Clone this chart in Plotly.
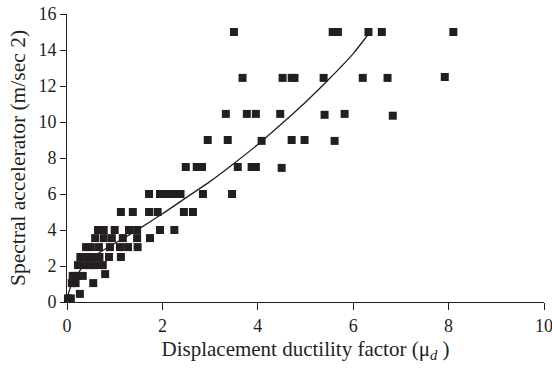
import plotly.graph_objects as go

# Scatter data (displacement ductility factor, spectral acceleration)
x_pts = [
    3.50, 5.57, 5.68, 6.32, 6.60, 8.10,
    3.68, 4.52, 4.71, 4.77, 5.38, 6.20, 6.72, 7.92,
    3.33, 3.77, 3.96, 4.47, 5.40, 5.82, 6.83,
    2.95, 3.37, 4.08, 4.71, 4.98, 5.61,
    2.49, 2.72, 2.83, 3.58, 3.87, 3.96, 4.50,
    1.72, 1.95, 2.10, 2.25, 2.38, 2.85, 3.46,
    1.13, 1.38, 1.72, 1.90, 2.45, 2.64,
    0.65, 0.77, 1.00, 1.30, 1.47, 1.95, 2.25,
    0.59, 0.77, 0.94, 1.17, 1.47, 1.74,
    0.40, 0.50, 0.67, 0.90, 1.11, 1.28, 1.48,
    0.28, 0.40, 0.54, 0.68, 0.88, 1.13,
    0.23, 0.36, 0.48, 0.59, 0.75,
    0.80,
    0.12, 0.22, 0.33,
    0.10, 0.18, 0.55,
    0.27,
    0.02, 0.08,
]
y_pts = [
    15.0, 15.0, 15.0, 15.0, 15.0, 15.0,
    12.45, 12.45, 12.45, 12.45, 12.45, 12.45, 12.45, 12.5,
    10.45, 10.45, 10.45, 10.45, 10.4, 10.45, 10.35,
    9.0, 9.0, 8.95, 9.0, 9.0, 8.95,
    7.5, 7.5, 7.5, 7.5, 7.5, 7.5, 7.45,
    6.0, 6.0, 6.0, 6.0, 6.0, 6.0, 6.0,
    5.0, 5.0, 5.0, 5.0, 5.0, 5.0,
    4.0, 4.0, 4.0, 4.0, 4.0, 4.0, 4.0,
    3.55, 3.55, 3.55, 3.55, 3.55, 3.55,
    3.05, 3.05, 3.05, 3.05, 3.05, 3.05, 3.05,
    2.5, 2.5, 2.5, 2.5, 2.5, 2.5,
    2.05, 2.05, 2.05, 2.05, 2.05,
    1.55,
    1.45, 1.45, 1.45,
    1.05, 1.05, 1.05,
    0.45,
    0.2, 0.2,
]

# Trend curve
x_fit = [0.0, 0.1, 0.3, 0.6, 1.0, 1.5, 2.0, 2.5, 3.0, 3.5, 4.0, 4.5, 5.0, 5.5, 6.0, 6.35]
y_fit = [0.2, 1.0, 1.85, 2.6, 3.25, 4.05, 4.9, 5.8, 6.7, 7.7, 8.75, 9.9, 11.1, 12.4, 13.8, 15.0]

x_ticks = [0, 2, 4, 6, 8, 10]
y_ticks = [0, 2, 4, 6, 8, 10, 12, 14, 16]

FONT = "Liberation Serif, Times New Roman, serif"
INK = "#231f20"

fig = go.Figure()
fig.add_trace(go.Scatter(
    x=x_fit, y=y_fit, mode="lines", line=dict(color=INK, width=1.3, shape="spline", smoothing=0.8),
    hoverinfo="skip", showlegend=False,
))
fig.add_trace(go.Scatter(
    x=x_pts, y=y_pts, mode="markers",
    marker=dict(symbol="square", size=8, color=INK, line=dict(width=0)),
    cliponaxis=False, showlegend=False,
))

fig.update_layout(
    width=552, height=368,
    margin=dict(l=67, r=8, t=14, b=66, autoexpand=False),
    paper_bgcolor="white", plot_bgcolor="white",
    font=dict(family=FONT, size=18, color=INK),
    showlegend=False,
)
fig.update_xaxes(
    range=[0, 10], tickvals=x_ticks, ticktext=[str(v) for v in x_ticks],
    showgrid=False, zeroline=False, showline=True, linecolor=INK, linewidth=1,
    ticks="outside", ticklen=7, tickcolor=INK, tickwidth=1,
    ticklabeloverflow="allow",
    tickfont=dict(family=FONT, size=18, color=INK),
    title=dict(text="Displacement ductility factor (μ<sub><i>d</i></sub> )",
               font=dict(family=FONT, size=21, color=INK), standoff=6),
)
fig.update_yaxes(
    range=[0, 16], tickvals=y_ticks, ticktext=[str(v) for v in y_ticks],
    showgrid=False, zeroline=False, showline=True, linecolor=INK, linewidth=1,
    ticks="outside", ticklen=6, tickcolor=INK, tickwidth=1,
    ticklabeloverflow="allow",
    tickfont=dict(family=FONT, size=18, color=INK),
    title=dict(text="Spectral accelerator (m/sec 2)",
               font=dict(family=FONT, size=21.5, color=INK), standoff=6),
)

fig.write_html("out.html")
